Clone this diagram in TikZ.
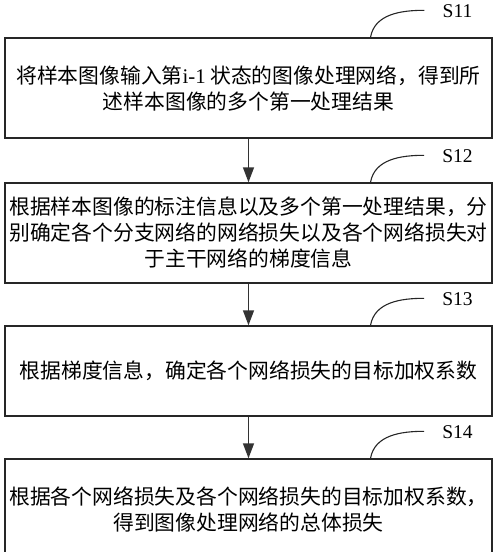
\documentclass[tikz,border=0pt]{standalone}
\usepackage{fontspec}
\setmainfont{Liberation Serif}
\newfontfamily\cjk{Noto Sans CJK SC}
\usetikzlibrary{arrows.meta,calc}
\tikzset{>=latex}

\begin{document}
\begin{tikzpicture}[x=1pt,y=-1pt,
		stepbox/.style = {draw=black!85, line width=1.4pt,
			minimum width=487pt, inner sep=0pt, align=center,
			font=\cjk\fontsize{20.8}{26}\selectfont
		},
		->-/.style = {-{Triangle[width=11pt,length=15pt]},
			draw=black!80, line width=1.4pt
		},
		steplabel/.style = {font=\fontsize{19.5}{19.5}\selectfont, inner sep=0pt},]
		\useasboundingbox (0,0) rectangle (500,552);
		\clip (0,0) rectangle (500,552);
		\node[stepbox, minimum height=100pt] (s11) at (248.5,88)
			{将样本图像输入第{\rmfamily i-1} 状态的图像处理网络，得到所\\述样本图像的多个第一处理结果};
		\node[stepbox, minimum height=100pt] (s12) at (248.5,233)
			{根据样本图像的标注信息以及多个第一处理结果，分\\别确定各个分支网络的网络损失以及各个网络损失对\\于主干网络的梯度信息};
		\node[stepbox, minimum height=90pt] (s13) at (248.5,371)
			{根据梯度信息，确定各个网络损失的目标加权系数};
		\node[stepbox, minimum height=100pt] (s14) at (248.5,509)
			{根据各个网络损失及各个网络损失的目标加权系数，\\得到图像处理网络的总体损失};
		\foreach \a/\b in {s11/s12, s12/s13, s13/s14}
		{
			\draw[->-] (\a) -- (\b);
		};
		\foreach \s in {11,12,13,14}
		{
			\node[steplabel] (l\s) at ($(s\s.north)+(209,-26)$) {S\s};
			\draw[line width=1.1pt, black!85] ($(s\s.north)+(122,0)$) to[out=80,in=180] ($(l\s.west)+(-18,-1)$);
		};
	\end{tikzpicture}
\end{document}
